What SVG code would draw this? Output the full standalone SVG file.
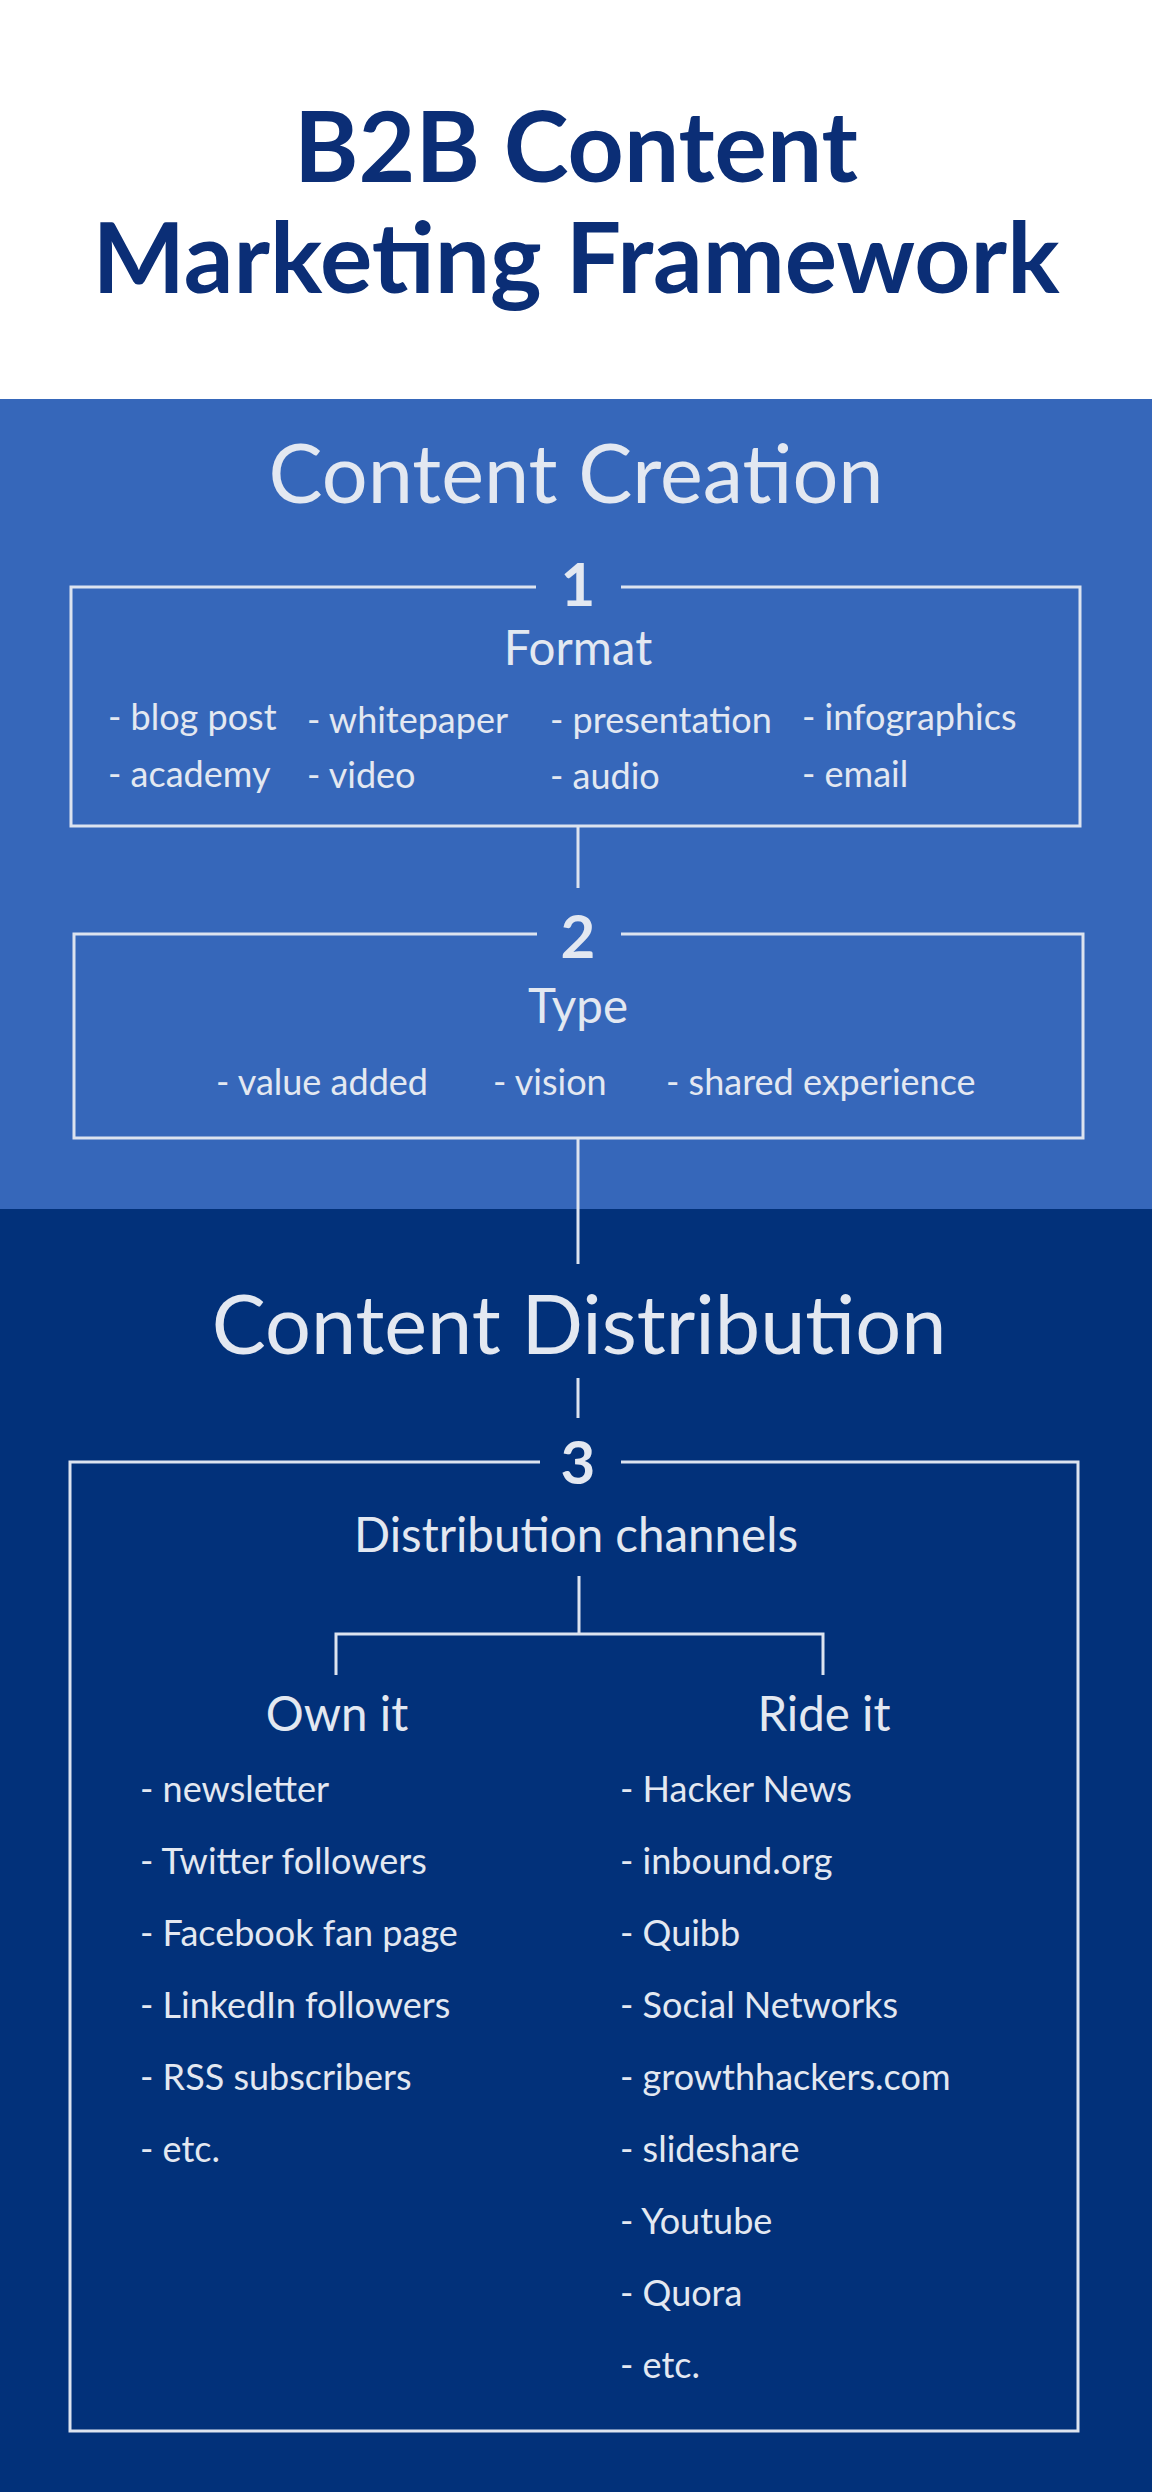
<svg xmlns="http://www.w3.org/2000/svg" width="1152" height="2492" viewBox="0 0 1152 2492">
<style>
.t{font-family:Lato,"Liberation Sans",sans-serif;fill:#E3E8F1}
.big{font-size:81px}
.num{font-size:60px;font-weight:bold;text-anchor:middle}
.hd{font-size:47.5px;text-anchor:middle}
.it{font-size:36px}
.ln{stroke:#DCE3EF;stroke-width:3;fill:none}
.ttl{font-family:Lato,"Liberation Sans",sans-serif;font-weight:bold;font-size:98px;fill:#0B2E76;text-anchor:middle}
</style>
<rect x="0" y="0" width="1152" height="400" fill="#FFFFFF"/>
<rect x="0" y="399" width="1152" height="811" fill="#3667BA"/>
<rect x="0" y="1209" width="1152" height="1283" fill="#02317A"/>
<g id="title">
<text class="ttl" x="576" y="182">B2B Content</text>
<text class="ttl" x="576" y="293">Marketing Framework</text>
</g>
<g id="section-creation">
<text class="t big" x="576" y="503" text-anchor="middle">Content Creation</text>
</g>
<g id="section-distribution">
<text class="t big" x="579" y="1354" text-anchor="middle">Content Distribution</text>
</g>
<g id="connectors">
<line class="ln" x1="578" y1="826" x2="578" y2="888"/>
<line class="ln" x1="578" y1="1138" x2="578" y2="1264"/>
<line class="ln" x1="578" y1="1378" x2="578" y2="1418"/>
<line class="ln" x1="579" y1="1576" x2="579" y2="1634"/>
<polyline class="ln" points="336,1675 336,1634 823,1634 823,1675"/>
</g>
<g id="node-1">
<path class="ln" d="M536,587 H71 V826 H1080 V587 H621"/>
<text class="t num" x="578" y="606">1</text>
<text class="t hd" x="578" y="665">Format</text>
<text class="t it" x="108" y="730">- blog post</text>
<text class="t it" x="307" y="733">- whitepaper</text>
<text class="t it" x="550" y="733">- presentation</text>
<text class="t it" x="802" y="730">- infographics</text>
<text class="t it" x="108" y="787">- academy</text>
<text class="t it" x="307" y="788">- video</text>
<text class="t it" x="550" y="789">- audio</text>
<text class="t it" x="802" y="787">- email</text>
</g>
<g id="node-2">
<path class="ln" d="M537,934 H74 V1138 H1083 V934 H621"/>
<text class="t num" x="578" y="958">2</text>
<text class="t hd" x="578" y="1023">Type</text>
<text class="t it" x="216" y="1095">- value added</text>
<text class="t it" x="493" y="1095">- vision</text>
<text class="t it" x="666" y="1095">- shared experience</text>
</g>
<g id="node-3">
<path class="ln" d="M540,1462 H70 V2431 H1078 V1462 H621"/>
<text class="t num" x="578" y="1484">3</text>
<text class="t hd" x="576" y="1552">Distribution channels</text>
</g>
<g id="own-it">
<text class="t hd" x="337" y="1731">Own it</text>
<text class="t it" x="140" y="1802">- newsletter</text>
<text class="t it" x="140" y="1874">- Twitter followers</text>
<text class="t it" x="140" y="1946">- Facebook fan page</text>
<text class="t it" x="140" y="2018">- LinkedIn followers</text>
<text class="t it" x="140" y="2090">- RSS subscribers</text>
<text class="t it" x="140" y="2162">- etc.</text>
</g>
<g id="ride-it">
<text class="t hd" x="824" y="1731">Ride it</text>
<text class="t it" x="620" y="1802">- Hacker News</text>
<text class="t it" x="620" y="1874">- inbound.org</text>
<text class="t it" x="620" y="1946">- Quibb</text>
<text class="t it" x="620" y="2018">- Social Networks</text>
<text class="t it" x="620" y="2090">- growthhackers.com</text>
<text class="t it" x="620" y="2162">- slideshare</text>
<text class="t it" x="620" y="2234">- Youtube</text>
<text class="t it" x="620" y="2306">- Quora</text>
<text class="t it" x="620" y="2378">- etc.</text>
</g>
</svg>
